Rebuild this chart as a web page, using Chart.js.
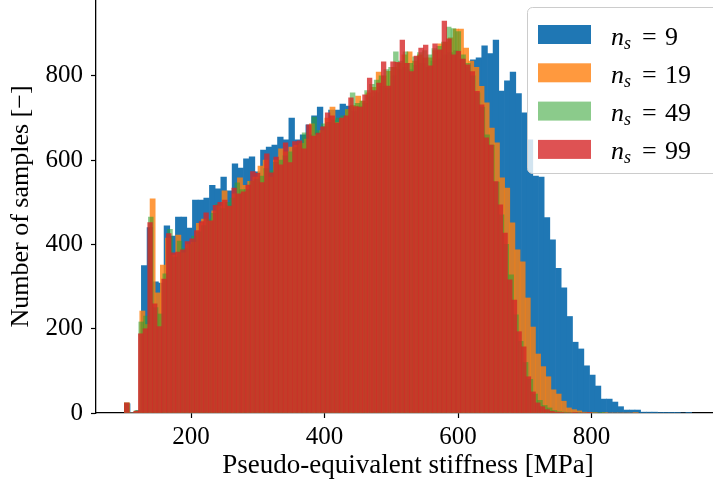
<!DOCTYPE html>
<html>
<head>
<meta charset="utf-8">
<script src="https://cdn.jsdelivr.net/npm/chart.js@4.4.0/dist/chart.umd.min.js"></script>
<style>
  html, body { margin: 0; padding: 0; background: #fff; overflow: hidden; }
  #wrap { position: absolute; left: 0; top: 0; width: 720px; height: 489px; }
</style>
</head>
<body>
<div id="wrap"><canvas id="stiffHist" width="720" height="489"></canvas></div>
<script>
// histogram bins: 100 bins per series, all starting at 100 MPa
const binStart = 100;
const binWidths = [8.5, 7.7, 7.2, 7.0];
const sampleSizes = ['9', '19', '49', '99'];

const counts9 = [
  22, 1, 6, 350, 440, 311, 308, 444, 420, 465,
  465, 439, 505, 505, 510, 540, 532, 560, 527, 591,
  581, 603, 608, 572, 624, 631, 636, 655, 648, 700,
  648, 660, 684, 705, 726, 679, 719, 719, 733, 728,
  715, 728, 735, 750, 760, 775, 770, 800, 815, 820,
  815, 825, 830, 820, 835, 840, 850, 855, 860, 840,
  820, 838, 843, 871, 853, 885, 764, 788, 809, 758,
  712, 648, 562, 560, 464, 411, 343, 297, 229, 168,
  152, 112, 90, 64, 33, 33, 26, 15, 7, 7,
  7, 2, 2, 2, 1, 1, 1, 1, 0, 1
];
const counts19 = [
  24, 0, 5, 242, 210, 508, 285, 351, 415, 375,
  422, 380, 400, 405, 450, 460, 455, 480, 491, 527,
  490, 520, 558, 540, 550, 560, 586, 600, 560, 600,
  627, 620, 631, 635, 640, 650, 686, 660, 670, 700,
  726, 690, 700, 720, 730, 752, 740, 760, 773, 809,
  800, 811, 820, 830, 850, 857, 835, 850, 843, 843,
  860, 876, 880, 890, 911, 911, 866, 835, 820, 775,
  736, 676, 641, 558, 534, 451, 387, 359, 273, 204,
  140, 110, 86, 55, 45, 28, 12, 8, 5, 2,
  1, 1, 0, 1, 0, 0, 0, 0, 0, 1
];
const counts49 = [
  24, 0, 5, 216, 230, 465, 250, 235, 330, 436,
  370, 408, 390, 400, 420, 430, 445, 460, 474, 496,
  485, 500, 510, 546, 530, 530, 550, 555, 562, 580,
  575, 595, 600, 610, 620, 630, 640, 665, 660, 702,
  670, 686, 690, 695, 700, 705, 720, 760, 735, 740,
  765, 780, 790, 800, 815, 820, 857, 835, 857, 830,
  845, 855, 860, 850, 865, 870, 880, 916, 912, 905,
  850, 830, 800, 760, 726, 660, 636, 548, 470, 400,
  328, 233, 170, 120, 80, 45, 30, 18, 12, 6,
  3, 2, 1, 0, 1, 0, 0, 0, 0, 1
];
const counts99 = [
  24, 0, 4, 188, 200, 452, 259, 205, 318, 426,
  380, 382, 387, 407, 413, 433, 454, 475, 456, 493,
  500, 505, 491, 534, 520, 525, 541, 573, 569, 547,
  615, 570, 607, 589, 641, 594, 644, 646, 627, 684,
  657, 664, 679, 712, 705, 688, 700, 705, 748, 727,
  726, 755, 795, 765, 783, 833, 776, 833, 832, 885,
  830, 810, 847, 866, 873, 824, 876, 862, 930, 888,
  850, 858, 840, 826, 810, 763, 731, 653, 636, 549,
  494, 427, 316, 268, 193, 157, 86, 50, 24, 15,
  8, 4, 2, 1, 0, 0, 1, 0, 0, 1
];

const xTicks = [200, 400, 600, 800];
const yTicks = [0, 200, 400, 600, 800];

const allCounts = [counts9, counts19, counts49, counts99];
const colors = [
  'rgba(31,119,180,1)',
  'rgba(255,127,14,0.8)',
  'rgba(44,160,44,0.55)',
  'rgba(214,39,40,0.8)'
];

const serif = 'Liberation Serif';
const xMin = 57.5, xMax = 992.5;

// one x axis per series so every dataset gets its own bar width
const datasets = allCounts.map((arr, s) => ({
  label: sampleSizes[s],
  data: arr.map((c, i) => ({ x: binStart + binWidths[s] * (i + 0.5), y: c })),
  backgroundColor: colors[s],
  borderWidth: 0,
  barPercentage: 1,
  categoryPercentage: 1,
  grouped: false,
  xAxisID: 'x' + s,
  order: 3 - s
}));

function hiddenX() {
  return {
    type: 'linear', display: false, min: xMin, max: xMax, offset: false,
    afterBuildTicks: sc => { sc.ticks = xTicks.map(v => ({ value: v })); }
  };
}

const tickGrid = {
  display: true, drawOnChartArea: false, drawTicks: true, offset: false,
  tickLength: 5, tickWidth: 1.2, tickColor: '#000', color: '#000'
};
const axisBorder = { display: true, color: '#000', width: 1.3 };

// legend box drawn on top of the bars
const boxLegend = {
  id: 'boxLegend',
  afterDraw(chart) {
    const ctx = chart.ctx;
    const bx = 527.5, by = 7.5, bw = 230, bh = 166, r = 5;
    ctx.save();
    ctx.beginPath();
    ctx.moveTo(bx + r, by);
    ctx.arcTo(bx + bw, by, bx + bw, by + bh, r);
    ctx.arcTo(bx + bw, by + bh, bx, by + bh, r);
    ctx.arcTo(bx, by + bh, bx, by, r);
    ctx.arcTo(bx, by, bx + bw, by, r);
    ctx.closePath();
    ctx.fillStyle = 'rgba(255,255,255,0.8)';
    ctx.fill();
    ctx.strokeStyle = '#cccccc';
    ctx.lineWidth = 1;
    ctx.stroke();

    chart.data.datasets.forEach((ds, i) => {
      const top = 25 + i * 38.3;
      ctx.fillStyle = ds.backgroundColor;
      ctx.fillRect(538, top, 53, 19);

      const base = top + 19.5;
      ctx.fillStyle = '#000';
      ctx.textBaseline = 'alphabetic';
      ctx.textAlign = 'left';
      ctx.font = 'italic 26px "' + serif + '"';
      ctx.fillText('n', 611, base);
      ctx.font = 'italic 18px "' + serif + '"';
      ctx.fillText('s', 624, base + 4);
      ctx.font = '26px "' + serif + '"';
      ctx.fillText('=', 642, base);
      ctx.fillText(ds.label, 665, base);
    });
    ctx.restore();
  }
};

new Chart(document.getElementById('stiffHist'), {
  type: 'bar',
  data: { datasets: datasets },
  options: {
    responsive: false,
    animation: false,
    devicePixelRatio: 1,
    layout: { padding: 0 },
    plugins: { legend: { display: false }, tooltip: { enabled: false } },
    scales: {
      x0: {
        type: 'linear', position: 'bottom', min: xMin, max: xMax, offset: false,
        afterBuildTicks: sc => { sc.ticks = xTicks.map(v => ({ value: v })); },
        grid: tickGrid,
        border: axisBorder,
        ticks: { color: '#000', font: { family: serif, size: 25 }, padding: 4, maxRotation: 0, autoSkip: false },
        title: {
          display: true, text: 'Pseudo-equivalent stiffness [MPa]', color: '#000',
          font: { family: serif, size: 27 }, padding: { top: 0, bottom: 7 }
        },
        afterFit: sc => { sc.height = 76; sc.paddingLeft = 0; sc.paddingRight = 0; }
      },
      x1: hiddenX(),
      x2: hiddenX(),
      x3: hiddenX(),
      y: {
        position: 'left', min: 0, max: 980,
        afterBuildTicks: sc => { sc.ticks = yTicks.map(v => ({ value: v })); },
        grid: tickGrid,
        border: axisBorder,
        ticks: { color: '#000', font: { family: serif, size: 25 }, padding: 8 },
        title: {
          display: true, text: 'Number of samples [\u2212]', color: '#000',
          font: { family: serif, size: 26 }, padding: { top: 6, bottom: 0 }
        },
        afterFit: sc => { sc.width = 96; sc.paddingTop = 0; sc.paddingBottom = 0; }
      }
    }
  },
  plugins: [boxLegend]
});
</script>
</body>
</html>
